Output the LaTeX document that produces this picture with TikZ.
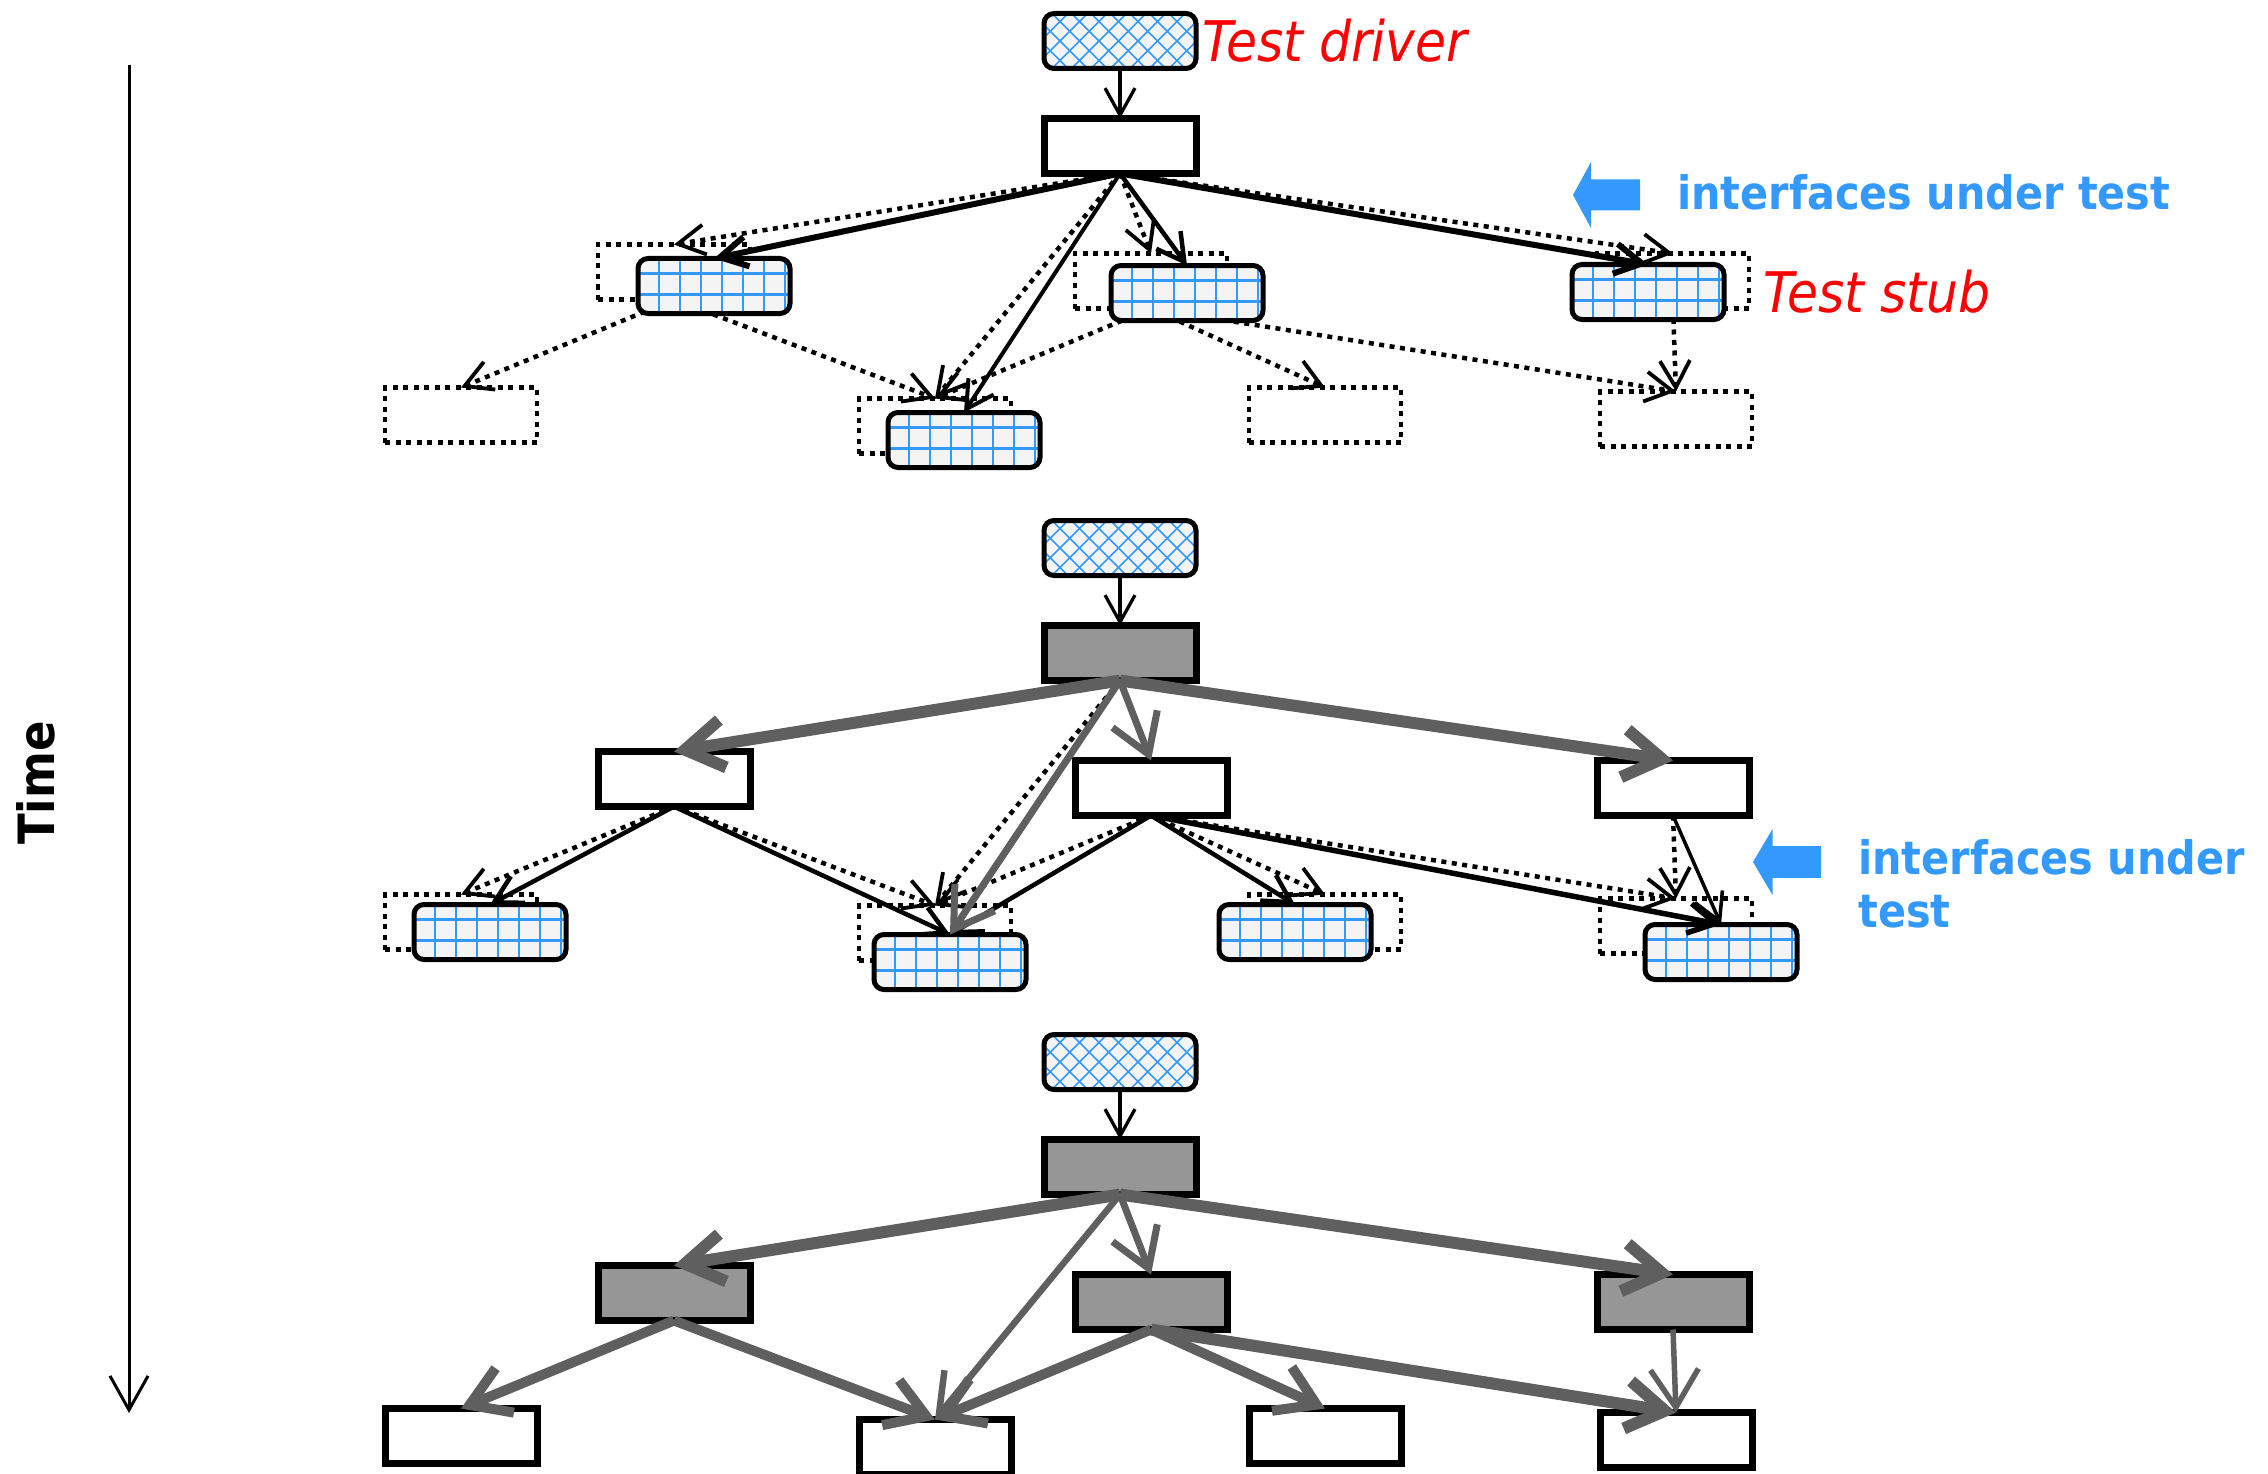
\documentclass[tikz,border=0pt]{standalone}
\usepackage{fontspec}
\setmainfont{DejaVu Sans}
\newfontfamily\condfont{DejaVu Sans Condensed}
\usetikzlibrary{arrows.meta}

\definecolor{hatchblue}{RGB}{51,153,255}
\definecolor{labelblue}{RGB}{51,153,255}
\definecolor{callgray}{RGB}{95,95,95}
\definecolor{donegray}{RGB}{150,150,150}
\definecolor{stubfill}{RGB}{244,244,244}
\definecolor{labelred}{RGB}{255,0,0}

\pgfdeclarelayer{behind}
\pgfsetlayers{behind,main}

\tikzset{
  x=1pt, y=-1pt,
  box/.style={rectangle, minimum width=152pt, minimum height=55pt, inner sep=0pt, outer sep=0pt},
  module/.style={box, draw=black, line width=7pt, fill=white},
  done/.style={module, fill=donegray},
  ghostbox/.style={box, draw=black, line width=4.5pt, dash pattern=on 5pt off 5.5pt},
  stubbox/.style={box, draw=black, line width=5pt, rounded corners=10pt, fill=stubfill,
    path picture={
      \foreach \k in {0,...,8}{
        \draw[hatchblue, line width=2.5pt] ([xshift=\k*21pt]path picture bounding box.south west) -- ++(0pt,80pt);}
      \foreach \k in {1,...,3}{
        \draw[hatchblue, line width=2.5pt] ([yshift=\k*20.7pt-1.5pt]path picture bounding box.south west) -- ++(200pt,0pt);}}},
  driverbox/.style={box, draw=black, line width=5pt, rounded corners=10pt, fill=stubfill,
    path picture={\foreach \k in {0,...,12}{
      \draw[hatchblue, line width=1.6pt] ([xshift=\k*19.5pt-70pt]path picture bounding box.south west) -- ++(80pt,80pt);
      \draw[hatchblue, line width=1.6pt] ([xshift=\k*19.5pt-70pt]path picture bounding box.north west) -- ++(80pt,-80pt);}}},
  call/.style={draw=black, line width=#1, -{Straight Barb[length=27pt,width=30pt]}},
  plan/.style={draw=black, line width=4.5pt, dash pattern=on 5pt off 5.5pt,
    -{Straight Barb[length=27pt,width=30pt,line width=3.8pt]}},
  tested/.style={draw=callgray, line width=#1, -{Straight Barb[length=38pt,width=48pt]}},
  redlabel/.style={font={\condfont\itshape\fontsize{56}{66}\selectfont}, text=labelred, inner sep=0pt},
  bluelabel/.style={font={\condfont\bfseries\fontsize{46}{53}\selectfont}, text=labelblue, inner sep=0pt},
}

\begin{document}
\begin{tikzpicture}
\useasboundingbox (0,0) rectangle (2268,1474);

% ---------- time axis ----------
\coordinate (tstart) at (129,65);
\coordinate (tend) at (129,1413);
\draw[line width=3pt, -{Straight Barb[length=34pt,width=38pt]}] (tstart) -- (tend);
\node[font={\condfont\bfseries\fontsize{50}{60}\selectfont}, rotate=90, inner sep=0pt] (timelabel) at (36,783) {Time};

% ---------- stage 1: top module with stubs ----------
\node[driverbox] (d1) at (1120,41) {};
\node[module] (t1) at (1120,146) {};
\node[stubbox] (sA1) at (714,286) {};
\node[stubbox] (sB1) at (1187,293) {};
\node[stubbox] (sC1) at (1648,292) {};
\node[stubbox] (sE1) at (964,440) {};

% ---------- stage 2: second level with stubs ----------
\node[driverbox] (d2) at (1120,548) {};
\node[done] (m1) at (1120,653) {};
\node[module] (mA) at (674,779) {};
\node[module] (mB) at (1151,788) {};
\node[module] (mC) at (1673,788) {};
\node[stubbox] (sD2) at (490,932) {};
\node[stubbox] (sE2) at (950,962) {};
\node[stubbox] (sF2) at (1295,932) {};
\node[stubbox] (sG2) at (1721,952) {};

% ---------- stage 3: complete system ----------
\node[driverbox] (d3) at (1120,1062) {};
\node[done] (b1) at (1120,1167) {};
\node[done] (bA) at (674,1293) {};
\node[done] (bB) at (1151,1302) {};
\node[done] (bC) at (1673,1302) {};
\node[module] (bD) at (461,1436) {};
\node[module] (bE) at (935,1447) {};
\node[module] (bF) at (1325,1436) {};
\node[module] (bG) at (1676,1440) {};

% ---------- modules not yet integrated, and their calls ----------
\begin{pgfonlayer}{behind}
  \node[ghostbox] (gA1) at (674,272) {};
  \node[ghostbox] (gB1) at (1151,281) {};
  \node[ghostbox] (gC1) at (1673,281) {};
  \node[ghostbox] (gD1) at (461,415) {};
  \node[ghostbox] (gE1) at (935,426) {};
  \node[ghostbox] (gF1) at (1325,415) {};
  \node[ghostbox] (gG1) at (1676,419) {};

  \node[ghostbox] (gD2) at (461,922) {};
  \node[ghostbox] (gE2) at (935,933) {};
  \node[ghostbox] (gF2) at (1325,922) {};
  \node[ghostbox] (gG2) at (1676,926) {};

  \draw[plan] (t1.south) -- (gA1.north);
  \draw[plan] (t1.south) -- (gB1.north);
  \draw[plan] (t1.south) -- (gC1.north);
  \draw[plan] (t1.south) -- (gE1.north);
  \draw[plan] (gA1.south) -- (gD1.north);
  \draw[plan] (gA1.south) -- (gE1.north);
  \draw[plan] (gB1.south) -- (gE1.north);
  \draw[plan] (gB1.south) -- (gF1.north);
  \draw[plan] (gB1.south) -- (gG1.north);
  \draw[plan] (gC1.south) -- (gG1.north);

  \draw[plan] (m1.south) -- (gE2.north);
  \draw[plan] (mA.south) -- (gD2.north);
  \draw[plan] (mA.south) -- (gE2.north);
  \draw[plan] (mB.south) -- (gE2.north);
  \draw[plan] (mB.south) -- (gF2.north);
  \draw[plan] (mB.south) -- (gG2.north);
  \draw[plan] (mC.south) -- (gG2.north);
\end{pgfonlayer}

% ---------- interfaces under test (calls into stubs) ----------
\draw[call=3.3pt] (d1.south) -- (t1.north);
\draw[call=6pt]   (t1.south) -- (sA1.north);
\draw[call=4.5pt] (t1.south) -- (sB1.north);
\draw[call=6pt]   (t1.south) -- (sC1.north);
\draw[call=4pt]   (t1.south) -- (sE1.north);

\draw[call=3.3pt] (d2.south) -- (m1.north);
\draw[call=4.5pt] (mA.south) -- (sD2.north);
\draw[call=4.5pt] (mA.south) -- (sE2.north);
\draw[call=4.5pt] (mB.south) -- (sE2.north);
\draw[call=4.5pt] (mB.south) -- (sF2.north);
\draw[call=5.5pt] (mB.south) -- (sG2.north);
\draw[call=3.5pt] (mC.south) -- (sG2.north);

\draw[call=3.3pt] (d3.south) -- (b1.north);

% ---------- interfaces already tested ----------
\draw[tested=12pt] (m1.south) -- (mA.north);
\draw[tested=7pt]  (m1.south) -- (mB.north);
\draw[tested=12pt] (m1.south) -- (mC.north);
\draw[tested=7pt]  (m1.south) -- (sE2.north);

\draw[tested=12pt]  (b1.south) -- (bA.north);
\draw[tested=7pt]   (b1.south) -- (bB.north);
\draw[tested=12pt]  (b1.south) -- (bC.north);
\draw[tested=6.5pt] (b1.south) -- (bE.north);
\draw[tested=10pt]  (bA.south) -- (bD.north);
\draw[tested=10pt]  (bA.south) -- (bE.north);
\draw[tested=10pt]  (bB.south) -- (bE.north);
\draw[tested=10pt]  (bB.south) -- (bF.north);
\draw[tested=12pt]  (bB.south) -- (bG.north);
\draw[tested=5.5pt] (bC.south) -- (bG.north);

% ---------- labels ----------
\node[redlabel, anchor=base west] (drvlabel) at (1202,62) {Test driver};
\node[redlabel, anchor=base west] (stublabel) at (1763,312) {Test stub};

\fill[labelblue] (1573,195) -- ++(18,-33) -- ++(0,17.5) -- ++(49,0) -- ++(0,31)
  -- ++(-49,0) -- ++(0,17.5) -- cycle;
\node[bluelabel, anchor=base west] (iut1) at (1677,210) {interfaces under test};

\fill[labelblue] (1753,862) -- ++(19.5,-33) -- ++(0,17.2) -- ++(48.5,0) -- ++(0,31.6)
  -- ++(-48.5,0) -- ++(0,17.2) -- cycle;
\node[bluelabel, anchor=north west, align=left] (iut2) at (1858,839) {interfaces under\\test};
\end{tikzpicture}
\end{document}
